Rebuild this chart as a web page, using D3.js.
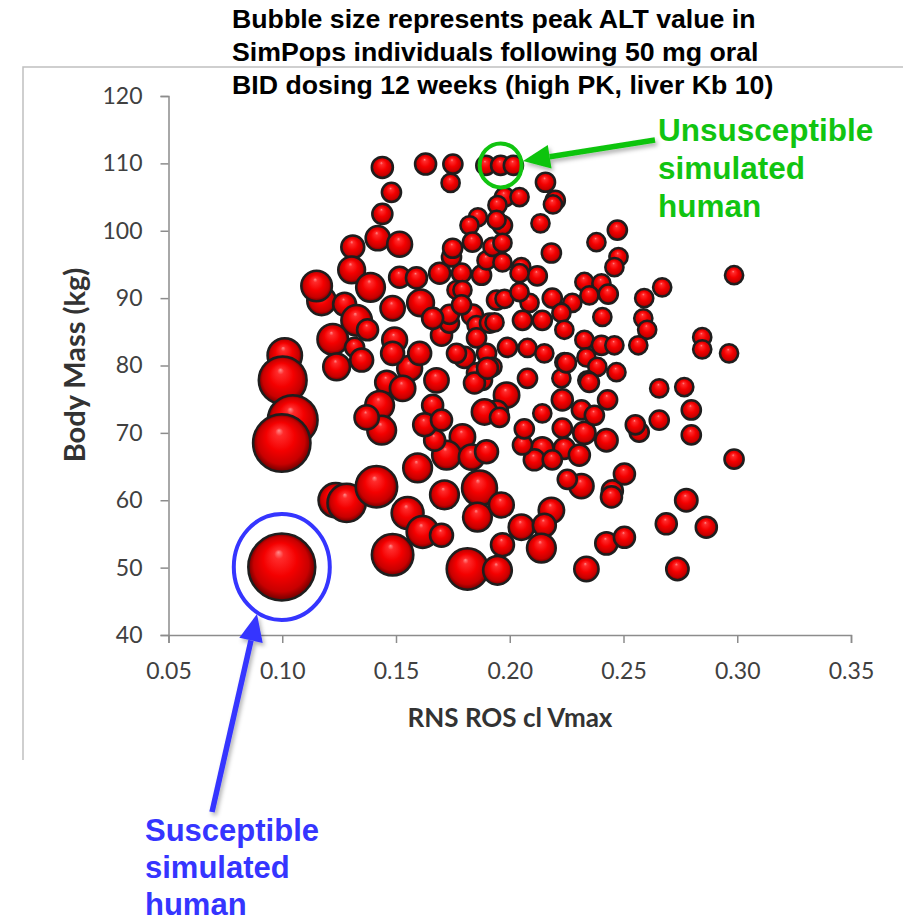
<!DOCTYPE html>
<html>
<head>
<meta charset="utf-8">
<script src="https://cdn.jsdelivr.net/npm/d3@7"></script>
<style>
  body { margin: 0; background: #fff; }
  svg { display: block; }
</style>
</head>
<body>
<script>

// chart values
var rosVmax = [
  0.144, 0.163, 0.175, 0.174, 0.1895, 0.196, 0.2016, 0.148, 0.144, 0.2157,
  0.220, 0.219, 0.1977, 0.2043, 0.1946, 0.1968, 0.2135, 0.186, 0.1823, 0.1836,
  0.2473, 0.2381, 0.2478, 0.246, 0.142, 0.1516, 0.131, 0.1305, 0.1173, 0.1151,
  0.1388, 0.1516, 0.159, 0.1608, 0.1485, 0.1274, 0.1327, 0.1222, 0.1375, 0.1318,
  0.1349, 0.1239, 0.1494, 0.156, 0.1604, 0.1459, 0.1678, 0.1011, 0.1002, 0.1046,
  0.0998, 0.0998, 0.1692, 0.1788, 0.1744, 0.1749, 0.1876, 0.1898, 0.1924, 0.1766,
  0.1836, 0.1854, 0.1911, 0.170, 0.1735, 0.1801, 0.1766, 0.1854, 0.1898, 0.188,
  0.1942, 0.1942, 0.1854, 0.1968, 0.2183, 0.1968, 0.2051, 0.2121, 0.2043, 0.2328,
  0.2403, 0.235, 0.2433, 0.267, 0.2591, 0.2587, 0.2604, 0.2565, 0.2407, 0.2986,
  0.2846, 0.2846, 0.2964, 0.2187, 0.2275, 0.1977, 0.2087, 0.2056, 0.2143, 0.2227,
  0.224, 0.2328, 0.2403, 0.246, 0.199, 0.2078, 0.2152, 0.224, 0.2337, 0.2385,
  0.2469, 0.1924, 0.2078, 0.2227, 0.2341, 0.2657, 0.2767, 0.1933, 0.2043, 0.1792,
  0.1735, 0.1661, 0.1788, 0.1235,
  0.1283, 0.1414, 0.1551, 0.1485, 0.1814, 0.1946, 0.1867, 0.1858, 0.1963, 0.1713,
  0.1617, 0.170, 0.2183, 0.2051, 0.2152, 0.2139, 0.1968, 0.2337, 0.2425, 0.2504,
  0.2737, 0.2688, 0.2864, 0.2776, 0.2451, 0.2504, 0.2315, 0.2253, 0.2986, 0.2657,
  0.2798, 0.2798, 0.2569, 0.2552, 0.2425, 0.2328, 0.224, 0.2143, 0.2306, 0.2108,
  0.2056, 0.2064, 0.2143, 0.2231, 0.2231, 0.2315, 0.2372, 0.243, 0.235, 0.2249,
  0.1986, 0.1942, 0.1889, 0.1845, 0.1902, 0.1661, 0.1792, 0.1722, 0.1832, 0.1898,
  0.167, 0.1595, 0.1428, 0.1437, 0.1371, 0.1485, 0.1626, 0.170, 0.1529, 0.2447,
  0.2187, 0.1955
];

var bodyMass = [
  109.4, 109.9, 109.9, 107.1, 109.7, 109.7, 109.7, 105.7, 102.5, 107.2,
  104.5, 103.9, 105.0, 105.0, 103.8, 100.8, 101.1, 102.0, 100.8, 98.3,
  100.1, 98.3, 96.1, 94.6, 98.9, 98.0, 97.6, 94.2, 89.6, 91.8,
  91.6, 93.1, 93.0, 89.3, 88.5, 89.1, 86.7, 83.9, 85.3, 82.7,
  80.8, 79.8, 83.8, 79.6, 81.8, 77.5, 77.8, 81.5, 77.8, 71.9,
  68.5, 50.1, 93.7, 93.7, 96.1, 97.4, 93.4, 95.6, 97.6, 91.2,
  87.5, 86.0, 86.3, 84.5, 86.3, 81.2, 81.8, 78.9, 81.8, 77.8,
  101.6, 89.7, 84.1, 98.2, 96.7, 95.3, 94.6, 93.3, 93.7, 92.4,
  92.2, 90.4, 90.6, 91.6, 90.0, 87.0, 85.3, 83.0, 87.2, 93.4,
  84.2, 82.4, 81.8, 90.0, 89.3, 89.9, 89.3, 86.7, 86.7, 87.8,
  85.3, 83.8, 83.0, 83.0, 82.7, 82.6, 81.8, 80.5, 81.2, 79.8,
  79.0, 79.8, 78.1, 78.1, 77.8, 76.6, 76.8, 86.4, 90.9, 91.2,
  87.6, 87.0, 89.0, 60.0,
  59.6, 62.0, 58.1, 51.9, 49.8, 49.6, 61.8, 57.5, 59.3, 60.8,
  55.3, 54.8, 58.5, 56.0, 56.3, 52.9, 53.4, 49.8, 53.6, 54.5,
  49.8, 56.5, 56.0, 60.0, 61.4, 63.9, 62.1, 63.1, 66.1, 71.9,
  69.7, 73.4, 70.1, 71.2, 68.9, 70.0, 67.7, 67.7, 66.7, 66.0,
  68.2, 70.6, 72.9, 70.7, 74.9, 73.4, 72.6, 74.9, 77.5, 80.4,
  75.6, 73.1, 73.1, 77.4, 79.6, 74.1, 69.4, 66.7, 66.4, 67.2,
  68.9, 64.8, 74.1, 70.4, 72.3, 81.8, 71.2, 71.9, 76.6, 60.5,
  66.0, 72.3
];

var peakALT = [
  99, 99, 82, 74, 82, 82, 82, 82, 90, 82,
  82, 74, 82, 74, 74, 82, 74, 74, 74, 82,
  82, 74, 74, 74, 132, 138, 118, 160, 184, 209,
  184, 99, 99, 160, 132, 118, 209, 209, 99, 82,
  118, 160, 138, 138, 118, 118, 132, 264, 510, 552,
  735, 1000, 99, 82, 82, 82, 82, 74, 74, 74,
  99, 74, 82, 99, 82, 99, 82, 82, 82, 82,
  74, 82, 82, 74, 82, 74, 74, 82, 74, 74,
  74, 74, 82, 74, 74, 74, 74, 74, 74, 74,
  74, 74, 74, 82, 74, 74, 74, 82, 82, 74,
  74, 74, 82, 74, 82, 74, 74, 74, 74, 74,
  74, 74, 82, 74, 74, 74, 74, 74, 74, 74,
  82, 99, 82, 264,
  327, 384, 228, 384, 384, 184, 273, 184, 138, 184,
  228, 118, 144, 144, 118, 184, 118, 132, 112, 99,
  112, 99, 99, 112, 99, 99, 132, 82, 82, 82,
  82, 82, 82, 82, 112, 112, 99, 112, 99, 99,
  82, 82, 74, 82, 99, 82, 82, 82, 82, 82,
  144, 118, 144, 99, 99, 99, 144, 184, 144, 118,
  99, 184, 184, 184, 132, 118, 118, 99, 144, 99,
  82, 82
];

var xTicks = [0.05, 0.10, 0.15, 0.20, 0.25, 0.30, 0.35];
var yTicks = [40, 50, 60, 70, 80, 90, 100, 110, 120];

var titleLines = [
  "Bubble size represents peak ALT value in",
  "SimPops individuals following 50 mg oral",
  "BID dosing 12 weeks (high PK, liver Kb 10)"
];
var greenLines = ["Unsusceptible", "simulated", "human"];
var blueLines = ["Susceptible", "simulated", "human"];

var width = 903, height = 923;
var svg = d3.select("body").append("svg").attr("width", width).attr("height", height);

var defs = svg.append("defs");

// shiny red ball
var grad = defs.append("radialGradient")
    .attr("id", "ball")
    .attr("cx", "50%").attr("cy", "50%").attr("r", "50%")
    .attr("fx", "45%").attr("fy", "28%");
grad.append("stop").attr("offset", "0%").attr("stop-color", "#ff8c8c");
grad.append("stop").attr("offset", "14%").attr("stop-color", "#ff2b2b");
grad.append("stop").attr("offset", "50%").attr("stop-color", "#f40000");
grad.append("stop").attr("offset", "82%").attr("stop-color", "#c80000");
grad.append("stop").attr("offset", "100%").attr("stop-color", "#6e0000");

var shadow = defs.append("filter").attr("id", "shadow")
    .attr("x", "-20%").attr("y", "-20%").attr("width", "140%").attr("height", "140%");
shadow.append("feDropShadow")
    .attr("dx", 2).attr("dy", 3).attr("stdDeviation", 2)
    .attr("flood-color", "#000").attr("flood-opacity", 0.3);

// outer frame (only top and left edges show)
svg.append("path")
    .attr("d", "M23,760 L23,67 L903,67")
    .attr("fill", "none")
    .attr("stroke", "#c0c0c0")
    .attr("stroke-width", 1.5);

var x = d3.scaleLinear().domain([0.05, 0.35]).range([168.5, 851]);
var y = d3.scaleLinear().domain([40, 120]).range([635, 96]);
var r = d3.scaleSqrt().domain([0, 1000]).range([0, 33.5]);

// axes
var xAxis = svg.append("g")
    .attr("transform", "translate(0," + y(40) + ")")
    .call(d3.axisBottom(x).tickValues(xTicks).tickSize(8).tickPadding(20)
        .tickFormat(d3.format(".2f")));

var yAxis = svg.append("g")
    .attr("transform", "translate(" + x(0.05) + ",0)")
    .call(d3.axisLeft(y).tickValues(yTicks).tickSize(8).tickPadding(18));

[xAxis, yAxis].forEach(function (g) {
    g.select(".domain").attr("stroke", "#8c8c8c").attr("stroke-width", 1.5);
    g.selectAll(".tick line").attr("stroke", "#8c8c8c").attr("stroke-width", 1.5);
    g.selectAll(".tick text")
        .attr("fill", "#404040")
        .style("font-family", "Lato, 'Open Sans', sans-serif")
        .style("font-size", "23px");
});

svg.append("text")
    .attr("x", 510).attr("y", 727)
    .attr("text-anchor", "middle")
    .attr("fill", "#333")
    .style("font-family", "Lato, sans-serif")
    .style("font-weight", "bold")
    .style("font-size", "26px")
    .text("RNS ROS cl Vmax");

svg.append("text")
    .attr("transform", "translate(85,365) rotate(-90)")
    .attr("text-anchor", "middle")
    .attr("fill", "#333")
    .style("font-family", "Lato, sans-serif")
    .style("font-weight", "bold")
    .style("font-size", "29px")
    .text("Body Mass (kg)");

// bubbles
var points = rosVmax.map(function (v, i) {
    return { vmax: v, mass: bodyMass[i], alt: peakALT[i] };
});

svg.append("g")
    .selectAll("circle")
    .data(points)
    .enter().append("circle")
    .attr("cx", function (d) { return x(d.vmax); })
    .attr("cy", function (d) { return y(d.mass); })
    .attr("r", function (d) { return r(d.alt); })
    .attr("fill", "url(#ball)")
    .attr("stroke", "#1e1e1e")
    .attr("stroke-width", 2.5);

// title
svg.append("g").selectAll("text")
    .data(titleLines)
    .enter().append("text")
    .attr("x", 232)
    .attr("y", function (d, i) { return 28 + i * 33; })
    .attr("fill", "#000")
    .style("font-family", "'Liberation Sans', Arial, sans-serif")
    .style("font-weight", "bold")
    .style("font-size", "26.7px")
    .text(function (d) { return d; });

// annotations
function arrow(x1, y1, x2, y2, color) {
    var ang = Math.atan2(y2 - y1, x2 - x1);
    var hl = 27, hw = 12;
    var bx = x2 - hl * Math.cos(ang), by = y2 - hl * Math.sin(ang);
    var g = svg.append("g").attr("filter", "url(#shadow)");
    g.append("line")
        .attr("x1", x1).attr("y1", y1).attr("x2", bx).attr("y2", by)
        .attr("stroke", color).attr("stroke-width", 5.5);
    var px = -Math.sin(ang) * hw, py = Math.cos(ang) * hw;
    g.append("polygon")
        .attr("points", [[x2, y2], [bx + px, by + py], [bx - px, by - py]].join(" "))
        .attr("fill", color);
}

var green = "#11c411", blue = "#3535ff";

svg.append("ellipse")
    .attr("cx", x(0.196)).attr("cy", y(109.7))
    .attr("rx", 21).attr("ry", 22)
    .attr("fill", "none").attr("stroke", green).attr("stroke-width", 4);
arrow(655, 140, 523, 161, green);

svg.append("ellipse")
    .attr("cx", x(0.0998)).attr("cy", y(50.1))
    .attr("rx", 48).attr("ry", 53)
    .attr("fill", "none").attr("stroke", blue).attr("stroke-width", 4);
arrow(212, 812, 257, 614, blue);

svg.append("g").selectAll("text")
    .data(greenLines)
    .enter().append("text")
    .attr("x", 658)
    .attr("y", function (d, i) { return 141 + i * 38; })
    .attr("fill", green)
    .style("font-family", "'Liberation Sans', Arial, sans-serif")
    .style("font-weight", "bold")
    .style("font-size", "31.5px")
    .text(function (d) { return d; });

svg.append("g").selectAll("text")
    .data(blueLines)
    .enter().append("text")
    .attr("x", 145)
    .attr("y", function (d, i) { return 841 + i * 37; })
    .attr("fill", blue)
    .style("font-family", "'Liberation Sans', Arial, sans-serif")
    .style("font-weight", "bold")
    .style("font-size", "31px")
    .text(function (d) { return d; });

</script>
</body>
</html>
